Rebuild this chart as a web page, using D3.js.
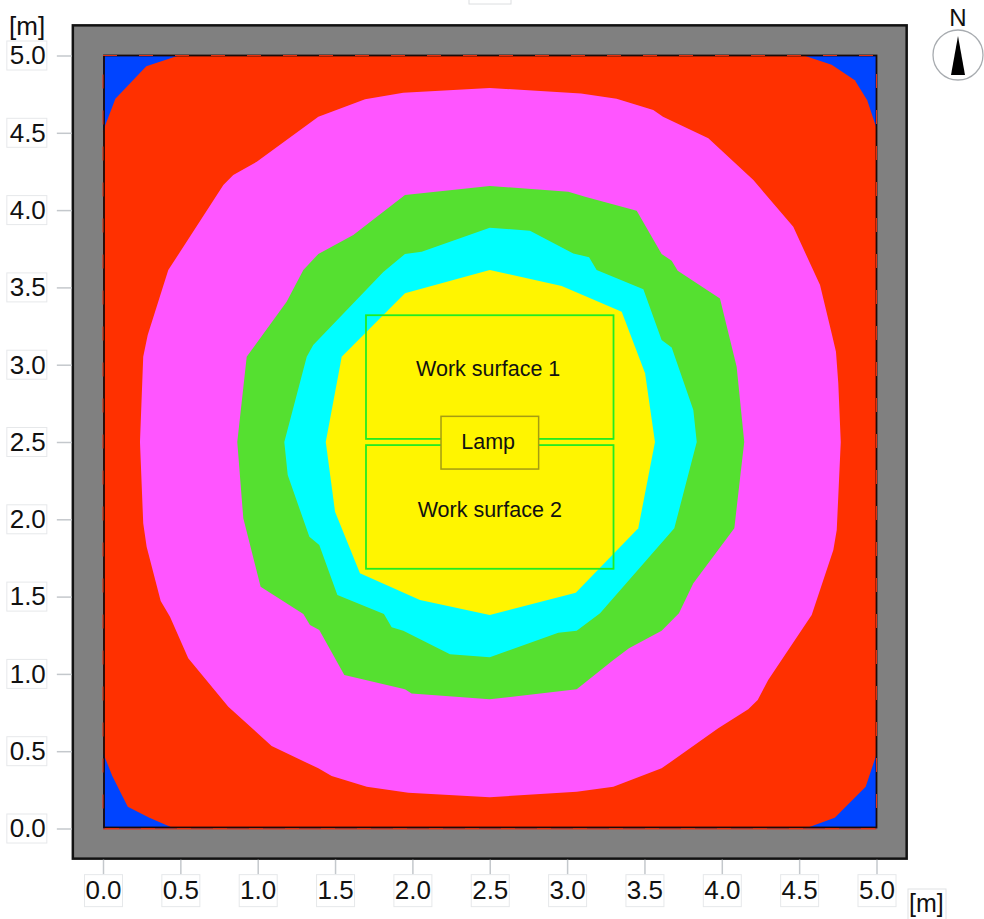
<!DOCTYPE html>
<html>
<head>
<meta charset="utf-8">
<script src="https://cdn.jsdelivr.net/npm/d3@7"></script>
<style>
body { margin: 0; background: #fff; }
text { font-family: "Liberation Sans", Arial, sans-serif; fill: #111; }
</style>
</head>
<body>
<div id="chart"></div>
<script>
// tick labels (metres)
const ticks = [0, 0.5, 1, 1.5, 2, 2.5, 3, 3.5, 4, 4.5, 5];

// isolines, metres
const redZone = [[0,4.51],[0.08,4.72],[0.28,4.93],[0.49,5],[4.53,5],[4.71,4.94],[4.86,4.84],[4.94,4.71],[5,4.53],
    [5,0.48],[4.93,0.27],[4.73,0.07],[4.54,0],[0.46,0],[0.3,0.07],[0.16,0.14],[0.06,0.34],[0,0.49]];

const pinkZone = [[2.5,4.79],[3.09,4.755],[3.32,4.72],[3.557,4.647],[3.62,4.604],[3.913,4.464],[4.204,4.194],[4.462,3.892],
    [4.635,3.515],[4.71,3.203],[4.738,3.084],[4.753,2.88],[4.769,2.5],[4.743,1.931],[4.721,1.801],[4.581,1.381],[4.3,0.96],
    [4.232,0.831],[4.171,0.771],[3.977,0.648],[3.611,0.389],[3.299,0.27],[3.062,0.238],[2.5,0.202],[1.974,0.232],[1.705,0.27],
    [1.478,0.34],[1.392,0.389],[1.09,0.534],[0.81,0.788],[0.551,1.101],[0.433,1.37],[0.373,1.471],[0.282,1.823],[0.26,1.974],
    [0.239,2.5],[0.26,3.052],[0.289,3.192],[0.422,3.612],[0.778,4.162],[0.842,4.227],[0.994,4.313],[1.392,4.604],[1.694,4.717],[1.941,4.759]];

const greenZone = [[2.5,4.156],[3.008,4.119],[3.116,4.086],[3.45,3.996],[3.611,3.716],[3.676,3.672],[3.715,3.608],[3.988,3.429],
    [4.096,2.987],[4.145,2.5],[4.124,2.319],[4.081,1.942],[3.816,1.586],[3.723,1.392],[3.611,1.279],[3.4,1.166],[3.299,1.09],
    [3.062,0.9],[2.5,0.836],[1.995,0.874],[1.952,0.9],[1.56,0.993],[1.398,1.284],[1.338,1.316],[1.295,1.387],[1.019,1.564],
    [0.907,2.006],[0.868,2.5],[0.929,3.052],[1.187,3.407],[1.295,3.612],[1.392,3.716],[1.618,3.839],[1.952,4.097]];

const cyanZone = [[2.5,3.886],[2.76,3.867],[3.04,3.72],[3.142,3.695],[3.191,3.612],[3.493,3.488],[3.611,3.16],[3.676,3.112],
    [3.816,2.707],[3.838,2.5],[3.693,1.942],[3.213,1.392],[3.062,1.279],[2.943,1.266],[2.5,1.107],[2.243,1.127],[1.941,1.279],
    [1.866,1.301],[1.816,1.387],[1.515,1.51],[1.398,1.834],[1.334,1.887],[1.194,2.286],[1.172,2.5],[1.317,3.052],[1.359,3.127],
    [1.812,3.6],[1.952,3.716],[2.06,3.731]];

const yellowZone = [[2.5,3.612],[2.965,3.509],[3.353,3.343],[3.504,2.944],[3.568,2.5],[3.46,1.942],[3.056,1.525],[2.5,1.381],
    [2.049,1.478],[1.661,1.651],[1.5,2.049],[1.44,2.5],[1.543,3.052],[1.952,3.462]];

const zoneNames = ["red", "pink", "green", "cyan", "yellow"];
const zoneColors = ["#ff3000", "#ff55ff", "#55e030", "#00ffff", "#fff500"];

// x0, x1, y0, y1 in metres
const surfaces = [
    { name: "Work surface 1", box: [1.70, 3.30, 2.52, 3.32], labelX: 2.49, labelY: 2.93 },
    { name: "Work surface 2", box: [1.70, 3.30, 1.68, 2.48], labelX: 2.50, labelY: 2.015 }
];
const lampBox = [2.185, 2.816, 2.325, 2.666];

const width = 984;
const height = 919;
const wall = 0.195;

const x = d3.scaleLinear().domain([0, 5]).range([103, 876.5]);
const y = d3.scaleLinear().domain([0, 5]).range([828.5, 55.5]);

const svg = d3.select("#chart").append("svg").attr("width", width).attr("height", height);

// walls
svg.append("rect")
    .attr("x", x(-wall)).attr("y", y(5 + wall))
    .attr("width", x(5 + wall) - x(-wall)).attr("height", y(-wall) - y(5 + wall))
    .attr("fill", "#808080").attr("stroke", "#111").attr("stroke-width", 2.5);

// room floor, corners stay blue
svg.append("rect")
    .attr("x", x(0)).attr("y", y(5))
    .attr("width", x(5) - x(0)).attr("height", y(0) - y(5))
    .attr("fill", "#0044ff");

const line = d3.line().x(d => x(d[0])).y(d => y(d[1])).curve(d3.curveLinearClosed);

const zones = [redZone, pinkZone, greenZone, cyanZone, yellowZone];
svg.selectAll("path.zone").data(zones).enter().append("path")
    .attr("class", (d, i) => "zone " + zoneNames[i])
    .attr("d", line)
    .attr("fill", (d, i) => zoneColors[i]);

// room outline, black with the red showing through in dashes
const roomRect = svg.append("g").attr("fill", "none");
roomRect.append("rect")
    .attr("x", x(0) + 1).attr("y", y(5))
    .attr("width", x(5) - x(0) - 1).attr("height", y(0) - y(5) - 1)
    .attr("stroke", "#1a0a08").attr("stroke-width", 1.8);
roomRect.append("rect")
    .attr("x", x(0)).attr("y", y(5))
    .attr("width", x(5) - x(0)).attr("height", y(0) - y(5))
    .attr("stroke", "#e03010").attr("stroke-width", 1).attr("stroke-dasharray", "14 22");
roomRect.append("line")
    .attr("x1", x(0)).attr("x2", x(5)).attr("y1", y(0) + 0.5).attr("y2", y(0) + 0.5)
    .attr("stroke", "#e03010").attr("stroke-width", 1.2);

// work surfaces
svg.selectAll("rect.surface").data(surfaces).enter().append("rect")
    .attr("class", "surface")
    .attr("x", d => x(d.box[0])).attr("y", d => y(d.box[3]))
    .attr("width", d => x(d.box[1]) - x(d.box[0])).attr("height", d => y(d.box[2]) - y(d.box[3]))
    .attr("fill", "none").attr("stroke", "#22ec22").attr("stroke-width", 1.8);

svg.selectAll("text.surface").data(surfaces).enter().append("text")
    .attr("class", "surface")
    .attr("x", d => x(d.labelX)).attr("y", d => y(d.labelY))
    .attr("text-anchor", "middle").attr("font-size", 21.5)
    .text(d => d.name);

// lamp
svg.append("rect")
    .attr("x", x(lampBox[0])).attr("y", y(lampBox[3]))
    .attr("width", x(lampBox[1]) - x(lampBox[0])).attr("height", y(lampBox[2]) - y(lampBox[3]))
    .attr("fill", "#fff500").attr("stroke", "#a59c12").attr("stroke-width", 1.5);
svg.append("text")
    .attr("x", x(2.49)).attr("y", y(2.455))
    .attr("text-anchor", "middle").attr("font-size", 21.5)
    .text("Lamp");

// axes
const yAxis = d3.axisLeft(y).tickValues(ticks).tickFormat(d3.format(".1f")).tickSize(15).tickPadding(11);
const xAxis = d3.axisBottom(x).tickValues(ticks).tickFormat(d3.format(".1f")).tickSize(15).tickPadding(6);

const gy = svg.append("g").attr("transform", `translate(${x(-wall) - 1},0)`).call(yAxis);
const gx = svg.append("g").attr("transform", `translate(0,${y(-wall) + 1})`).call(xAxis);

[gy, gx].forEach(g => {
    g.select(".domain").remove();
    g.selectAll(".tick line").attr("stroke", "#c4c8cc").attr("stroke-width", 1.5);
    g.selectAll(".tick text")
        .attr("font-size", 26)
        .attr("font-family", "Liberation Sans")
        .attr("fill", "#111");
});

function boxLabel(sel, bx, by, bw, bh) {
    sel.insert("rect", "text")
        .attr("x", bx).attr("y", by).attr("width", bw).attr("height", bh)
        .attr("fill", "#fff").attr("stroke", "#e6e8ea");
}
gy.selectAll(".tick").each(function () { boxLabel(d3.select(this), -65, -15, 40, 29); });
gx.selectAll(".tick").each(function () { boxLabel(d3.select(this), -19, 15, 38, 32); });

// unit labels
svg.append("text").attr("x", 9).attr("y", 35).attr("font-size", 26).text("[m]");
svg.append("rect").attr("x", 908).attr("y", 889).attr("width", 38).attr("height", 34)
    .attr("fill", "#fff").attr("stroke", "#e0e2e4");
svg.append("text").attr("x", 909).attr("y", 912).attr("font-size", 25).text("[m]");

// empty title box cut off by the top edge
svg.append("rect").attr("x", 469).attr("y", -20).attr("width", 42).attr("height", 24)
    .attr("fill", "#fff").attr("stroke", "#dcdee0");

// north arrow
const north = svg.append("g").attr("transform", "translate(958,55)");
north.append("circle").attr("r", 25).attr("fill", "#fff").attr("stroke", "#a8acb0").attr("stroke-width", 1.3);
north.append("path").attr("d", "M0,-19L7,20L-7,20Z").attr("fill", "#000");
north.append("text").attr("x", 0).attr("y", -29).attr("text-anchor", "middle").attr("font-size", 24).text("N");
</script>
</body>
</html>
